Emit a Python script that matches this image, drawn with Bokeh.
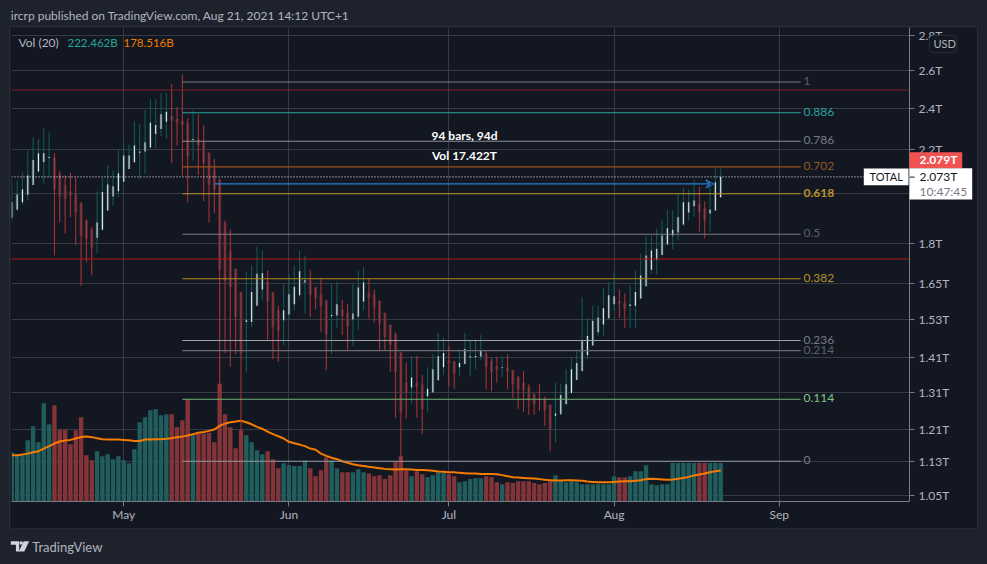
from math import exp
from bokeh.embed import file_html
from bokeh.layouts import column
from bokeh.models import Arrow, FixedTicker, LinearScale, Range1d, VeeHead
from bokeh.plotting import figure
from bokeh.core.properties import value
from bokeh.resources import INLINE

# ---- data (USD trillions, one row per day from 10 Apr 2021, index 0) ----
opens = [1.900,1.933,1.964,1.995,2.038,2.097,2.140,2.158,2.161,2.087,2.035,2.009,2.000,1.960,1.891,1.855,1.821,1.852,1.930,1.988,
         2.010,2.052,2.108,2.139,2.183,2.188,2.207,2.272,2.296,2.332,2.361,2.346,2.336,2.324,2.243,2.247,2.232,2.184,2.111,2.061,
         1.882,1.769,1.704,1.622,1.521,1.521,1.575,1.630,1.659,1.622,1.560,1.527,1.546,1.580,1.610,1.655,1.663,1.637,1.614,1.593,
         1.540,1.542,1.562,1.551,1.529,1.538,1.589,1.618,1.613,1.591,1.551,1.511,1.481,1.425,1.336,1.323,1.336,1.331,1.298,1.309,
         1.343,1.381,1.402,1.398,1.381,1.391,1.410,1.411,1.413,1.422,1.400,1.384,1.379,1.381,1.373,1.354,1.336,1.325,1.304,1.292,
         1.290,1.274,1.245,1.249,1.277,1.307,1.344,1.370,1.417,1.447,1.488,1.513,1.533,1.580,1.591,1.584,1.574,1.575,1.599,1.642,
         1.700,1.737,1.755,1.795,1.829,1.841,1.873,1.921,1.947,1.957,1.940,1.917,1.930,1.985]
highs = [2.064,2.057,2.092,2.195,2.254,2.248,2.301,2.280,2.182,2.101,2.079,2.091,2.071,1.965,1.893,1.864,2.010,2.068,2.126,2.101,
         2.197,2.229,2.221,2.332,2.321,2.392,2.447,2.447,2.479,2.479,2.528,2.408,2.580,2.348,2.387,2.369,2.316,2.184,2.154,2.064,
         1.889,1.853,1.704,1.622,1.694,1.716,1.787,1.772,1.698,1.622,1.575,1.649,1.683,1.716,1.772,1.753,1.700,1.640,1.672,1.593,
         1.652,1.657,1.595,1.580,1.649,1.698,1.710,1.669,1.630,1.593,1.551,1.513,1.488,1.425,1.395,1.415,1.415,1.358,1.381,1.420,
         1.486,1.471,1.445,1.400,1.432,1.486,1.463,1.465,1.479,1.429,1.407,1.412,1.414,1.420,1.373,1.354,1.370,1.332,1.306,1.332,
         1.298,1.276,1.337,1.334,1.375,1.410,1.429,1.602,1.533,1.575,1.575,1.637,1.657,1.692,1.630,1.616,1.644,1.698,1.760,1.825,
         1.830,1.856,1.889,1.930,1.930,1.997,2.024,2.017,2.061,2.031,1.967,2.028,2.110,2.110]
lows = [1.885,1.930,1.955,1.971,2.035,2.094,2.045,2.071,1.753,1.881,1.837,1.902,1.792,1.643,1.729,1.680,1.762,1.849,1.927,1.950,
        1.985,2.050,2.108,2.139,2.061,2.087,2.204,2.202,2.262,2.249,2.134,2.216,2.079,1.964,2.146,2.083,1.968,1.881,1.919,1.307,
        1.423,1.383,1.420,1.198,1.368,1.505,1.575,1.593,1.465,1.405,1.397,1.447,1.527,1.560,1.605,1.549,1.538,1.563,1.490,1.373,
        1.420,1.502,1.479,1.430,1.445,1.495,1.560,1.533,1.520,1.432,1.432,1.368,1.240,1.125,1.237,1.279,1.240,1.198,1.257,1.308,
        1.342,1.358,1.326,1.318,1.354,1.389,1.354,1.375,1.402,1.318,1.312,1.337,1.353,1.318,1.294,1.264,1.256,1.248,1.248,1.258,
        1.219,1.154,1.176,1.248,1.274,1.306,1.344,1.368,1.405,1.445,1.476,1.476,1.530,1.560,1.534,1.503,1.502,1.502,1.599,1.640,
        1.686,1.683,1.753,1.792,1.776,1.810,1.868,1.889,1.905,1.845,1.818,1.845,1.927,1.982]
closes = [1.964,1.997,2.018,2.079,2.149,2.180,2.180,2.163,2.017,1.988,1.978,1.992,1.921,1.827,1.816,1.783,1.881,2.007,2.040,2.032,
          2.089,2.170,2.170,2.217,2.189,2.232,2.327,2.316,2.369,2.382,2.336,2.327,2.316,2.168,2.248,2.215,2.136,2.038,2.017,1.700,
          1.659,1.639,1.538,1.422,1.527,1.622,1.686,1.688,1.590,1.504,1.492,1.560,1.614,1.640,1.695,1.663,1.613,1.599,1.573,1.482,
          1.544,1.580,1.541,1.508,1.549,1.637,1.655,1.601,1.569,1.516,1.472,1.449,1.366,1.253,1.311,1.351,1.325,1.263,1.319,1.375,
          1.414,1.424,1.392,1.363,1.394,1.436,1.414,1.415,1.430,1.381,1.366,1.375,1.381,1.368,1.331,1.317,1.315,1.286,1.277,1.288,
          1.260,1.212,1.251,1.302,1.332,1.375,1.394,1.460,1.476,1.525,1.536,1.566,1.610,1.607,1.582,1.562,1.579,1.622,1.680,1.753,
          1.772,1.778,1.829,1.858,1.852,1.902,1.964,1.964,1.971,1.923,1.891,1.934,2.050,2.073]
volumes = [284,267,267,353,434,342,566,445,555,415,415,330,411,486,267,238,290,261,273,244,
           261,238,221,301,457,486,526,532,497,503,503,428,468,589,382,392,392,396,342,678,
           503,428,307,411,382,342,296,273,290,244,192,221,209,204,204,238,192,146,180,255,
           238,192,169,169,169,186,169,161,146,152,129,152,232,261,180,146,175,157,140,152,
           167,165,157,146,111,117,129,134,134,146,140,111,100,111,106,117,117,117,106,100,
           106,117,152,117,111,117,111,100,100,100,100,100,100,146,140,140,146,175,175,209,
           100,94,100,100,222,222,222,222,222,222,222,222,222,222.462]
vol_ma = [267,267,271,276,284,290,305,319,334,346,351,355,363,372,374,371,365,359,357,357,
          357,355,353,349,349,357,357,359,359,361,365,371,374,380,388,396,401,407,415,436,
          449,457,461,465,457,445,430,419,403,388,376,363,344,336,328,319,305,298,276,263,
          252,244,232,223,215,209,205,200,196,192,188,186,184,186,186,184,182,182,180,177,
          173,171,169,169,165,163,161,161,159,159,159,157,152,146,140,138,136,134,132,129,
          125,123,121,121,123,123,121,119,115,113,111,111,111,113,115,117,117,119,123,129,
          131,129,127,125,127,131,136,142,150,156,161,169,175,178.516]

price_ticks = [2.8, 2.6, 2.4, 2.2, 2.0, 1.8, 1.65, 1.53, 1.41, 1.31, 1.21, 1.13, 1.05]
price_labels = ["2.8T", "2.6T", "2.4T", "2.2T", "2T", "1.8T", "1.65T", "1.53T", "1.41T", "1.31T", "1.21T", "1.13T", "1.05T"]
month_ticks = [21, 52, 82, 113, 144]
month_labels = ["May", "Jun", "Jul", "Aug", "Sep"]

fib_ratios = ["1", "0.886", "0.786", "0.702", "0.618", "0.5", "0.382", "0.236", "0.214", "0.114", "0"]
fib_prices = [2.538, 2.377, 2.237, 2.118, 2.000, 1.834, 1.668, 1.462, 1.431, 1.290, 1.130]
fib_line_colors = ["#787b86", "#26a69a", "#8d909a", "#9c5518", "#b8922e", "#787b86", "#b5891f", "#9ea1aa", "#6b6c70", "#6fb572", "#9598a1"]
fib_text_colors = ["#5d606b", "#26a69a", "#787b86", "#8d5a21", "#b8902a", "#5d606b", "#b8902a", "#787b86", "#5d606b", "#81c784", "#787b86"]
fib_first_day, fib_last_day = 32, 148
red_levels = [2.495, 1.740]
red_colors = ["#7f1f1f", "#b21818"]
last_price = 2.073
measure_price, measure_first, measure_last = 2.042, 38, 132

FONT = "Lato"
OUTER, PANE, GRID = "#1e222d", "#131722", "#363a45"

# page-pixel helpers for annotation placement
def xp(px):
    return (px - 11.3) / 5.33
def yp(py):
    return 2.8 * exp((35.3 - py) / 469)

# ---- header ----
head = figure(width=987, height=27, x_range=Range1d(0, 987), y_range=Range1d(27, 0),
              output_backend="svg", toolbar_location=None, min_border=0, outline_line_color=None,
              background_fill_color=OUTER, border_fill_color=OUTER)
head.axis.visible = False
head.grid.visible = False
head.text(x=[10], y=[15], text=["ircrp published on TradingView.com, Aug 21, 2021 14:12 UTC+1"],
          text_color="#b2b5be", text_font=value(FONT), text_font_size="12px", text_baseline="middle")

# ---- main pane ----
p = figure(width=967, height=501, margin=(0, 0, 0, 10), y_axis_type="log", y_axis_location="right",
           x_range=Range1d(xp(11), xp(909)), y_range=Range1d(yp(501.1), yp(26.8)),
           output_backend="svg", toolbar_location=None,
           min_border_left=1, min_border_right=68, min_border_top=0, min_border_bottom=27,
           outline_line_color=None, background_fill_color=PANE, border_fill_color=PANE,
           styles={"outline": "1px solid #2a2e39"})
p.extra_y_ranges = {"vol": Range1d(0, 474.3 * 3 * 1.92)}
p.extra_y_scales = {"vol": LinearScale()}

ax = p.yaxis[0]
ax.ticker = FixedTicker(ticks=price_ticks, minor_ticks=[])
ax.major_label_overrides = dict(zip(price_ticks, price_labels))
bx = p.xaxis[0]
bx.ticker = FixedTicker(ticks=month_ticks, minor_ticks=[])
bx.major_label_overrides = dict(zip(month_ticks, month_labels))
for a in (ax, bx):
    a.axis_line_color = "#787b86"
    a.major_tick_line_color = "#787b86"
    a.major_tick_out = 5
    a.major_tick_in = 0
    a.major_label_text_color = "#b2b5be"
    a.major_label_text_font = FONT
    a.major_label_text_font_size = "12px"
ax.major_label_standoff = 4
bx.major_label_standoff = 0
p.grid.grid_line_color = GRID
p.grid.grid_line_width = 1

days = list(range(len(closes)))
up = [c >= o for o, c in zip(opens, closes)]

# volume and its moving average
p.vbar(x=days, top=volumes, bottom=0, width=0.82, y_range_name="vol", line_color=None,
       fill_color=["#205e5e" if u else "#833439" for u in up])
p.line(x=days, y=vol_ma, y_range_name="vol", line_color="#f57c00", line_width=2)

# candles
wick_col = ["#0f5f5c" if u else "#b0353a" for u in up]
edge_col = ["#1c3a41" if u else "#4b2a33" for u in up]
core_col = ["#e6f0ef" if u else "#a8383d" for u in up]
body_bot = [min(o, c) for o, c in zip(opens, closes)]
body_top = [max(o, c) for o, c in zip(opens, closes)]
p.segment(x0=days, x1=days, y0=lows, y1=highs, line_color=wick_col, line_width=1)
p.vbar(x=days, top=body_top, bottom=body_bot, width=0.58, fill_color=edge_col, line_color=None)
p.vbar(x=days, top=body_top, bottom=body_bot, width=0.2, fill_color=core_col, line_color=None)

# horizontal drawings
p.segment(x0=[xp(11)] * 2, x1=[xp(909)] * 2, y0=red_levels, y1=red_levels, line_color=red_colors, line_width=1)
p.segment(x0=[fib_first_day] * len(fib_prices), x1=[fib_last_day] * len(fib_prices), y0=fib_prices, y1=fib_prices,
          line_color=fib_line_colors, line_width=1.1)
p.line(x=[xp(11), xp(909)], y=[last_price, last_price], line_color="white", line_width=1, line_dash="1 2")
p.add_layout(Arrow(end=VeeHead(size=8, line_color="#2272c3", line_width=1.3, fill_alpha=0),
                   x_start=measure_first, x_end=measure_last - 0.3, y_start=measure_price, y_end=measure_price,
                   line_color="#2a7fd6", line_width=1.2))

# overlay-level glyphs are drawn above the axis and may sit beside the plot frame
def box(l, r, t, b, fill, line=None, radius=0):
    g = p.quad(left=[xp(l)], right=[xp(r)], top=[yp(t)], bottom=[yp(b)], fill_color=fill,
               line_color=line, border_radius=radius)
    g.level = "overlay"
def lab(px, y, text, color, size="12px", style="normal", align="left"):
    g = p.text(x=[xp(px)], y=[y], text=[text], text_color=color, text_font=value(FONT), text_font_size=size,
               text_font_style=style, text_align=align, text_baseline="middle", y_offset=-1)
    g.level = "overlay"

for r, v, c in zip(fib_ratios, fib_prices, fib_text_colors):
    lab(803, v, r, c, style="bold" if r == "0.618" else "normal")

lab(18, yp(42.5), "Vol (20)", "#b2b5be")
lab(67, yp(42.5), "222.462B", "#26a69a", size="11.5px")
lab(123, yp(42.5), "178.516B", "#f57c00", size="11.5px")
lab(464, yp(135.5), "94 bars, 94d", "white", style="bold", align="center")
lab(464, yp(156), "Vol 17.422T", "white", style="bold", align="center")

box(909, 961.7, 151.7, 167.7, "#ef5350")
lab(919, yp(160.2), "2.079T", "white", style="bold")
box(909, 971.7, 167.7, 199, "white")
box(909, 914, 176, 177, "#131722")
lab(919, yp(177), "2.073T", "#131722")
lab(919, yp(191.5), "10:47:45", "#787b86")
box(863.3, 908, 168, 184.7, "white")
lab(869, yp(177), "TOTAL", "#131722", size="11px")
box(929, 956, 34.7, 52, PANE, "#2a2e39", 4)
lab(933, yp(43.5), "USD", "#b2b5be", size="11px")

# ---- footer ----
foot = figure(width=987, height=36, x_range=Range1d(0, 987), y_range=Range1d(564, 528),
              output_backend="svg", toolbar_location=None, min_border=0, outline_line_color=None,
              background_fill_color=OUTER, border_fill_color=OUTER)
foot.axis.visible = False
foot.grid.visible = False
foot.patches(xs=[[10, 19, 19, 15.5, 15.5, 10], [24, 29.7, 24.5, 18.5]],
             ys=[[540.7, 540.7, 551, 551, 544.3, 544.3], [540.7, 540.7, 551, 551]],
             fill_color="#d1d4dc", line_color=None)
foot.scatter(x=[21.2], y=[542.5], size=3.6, fill_color="#d1d4dc", line_color=None)
foot.text(x=[33], y=[546.5], text=["TradingView"], text_color="#b2b5be", text_font=value(FONT),
          text_font_size="13px", text_baseline="middle")

page = column(head, p, foot, spacing=0)
html = file_html(page, INLINE).replace("<head>", "<head><style>html,body{margin:0;background:#1e222d;overflow:hidden;}</style>", 1)
open("out.html", "w").write(html)
